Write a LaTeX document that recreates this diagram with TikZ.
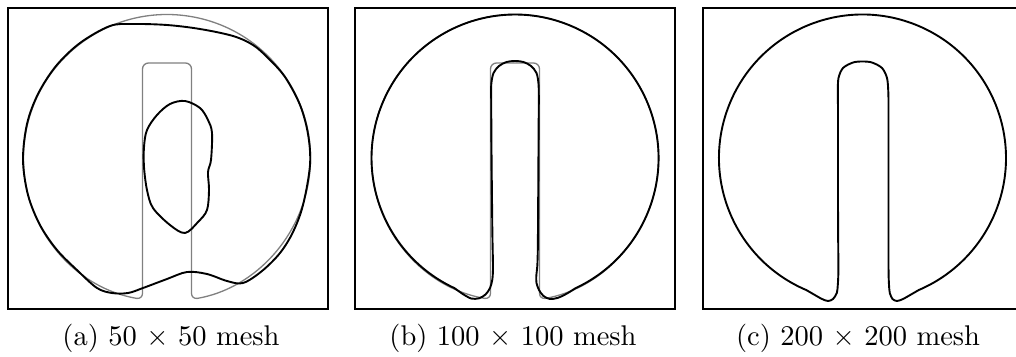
\documentclass[tikz,border=0pt]{standalone}
\usepackage{tikz}
\usepackage{fontspec}
\usepackage{xcolor}
\newfontfamily\capfont{lmroman10-regular.otf}
\definecolor{exactline}{RGB}{128,128,128}

\tikzset{
  panelbox/.style={line width=2.4pt},
  exactset/.style={exactline, line width=1.3pt, rounded corners=6pt},
  lsline/.style={black, line width=1.9pt, line join=round},
  caption/.style={font=\capfont\fontsize{28.5}{34}\selectfont, anchor=base}
}
% exact slotted disk, #1 = centre x
\newcommand{\slotdisk}[1]{%
  \draw[exactset] (#1-24.5,299.4) arc[start angle=99.83, end angle=440.17, radius=143.5]
    -- (#1+24.5,63) -- (#1-24.5,63) -- cycle;}

\begin{document}
\begin{tikzpicture}[x=1pt, y=-1pt]
  \path[use as bounding box] (0,0) rectangle (1016,356);
  \begin{scope}
    \clip (0,0) rectangle (1016,356);
    \foreach \x in {8,355,703}
      \draw[panelbox] (\x,8) rectangle ++(320,301);
  \end{scope}

  % exact solution
  \foreach \cx in {167,515} {\slotdisk{\cx}}

  % (a) coarse mesh
  \draw[lsline] plot[smooth cycle, tension=0.55] coordinates {
    (23,160) (27,124) (38,94) (56,66) (80,43) (110,26) (133,24) (167,25)
    (200,29) (233,36) (253,45) (268,58) (285,77) (300,105) (308,134)
    (310,165) (303,205) (293,232) (280,253) (262,271) (243,283) (227,281)
    (207,274) (187,272) (167,279) (143,288) (128,293) (112,293) (97,288)
    (78,271) (57,250) (40,225) (28,195)};
  \draw[lsline] plot[smooth cycle, tension=0.55] coordinates {
    (185,101) (170,104) (157,115) (147,130) (144,147) (144,167) (147,190)
    (153,208) (170,225) (185,233) (198,222) (207,210) (209,190) (208,172)
    (211,160) (212,133) (208,120) (200,108)};

  % (b) medium mesh
  \draw[lsline] (454.4,288.1) arc[start angle=115, end angle=425, radius=143.5]
    -- plot[smooth, tension=0.5] coordinates {
    (575.6,288.1) (567,293.5) (558,297.8) (550,299) (543.5,296) (539,290)
    (536.5,283) (536.3,276) (537.3,266) (537.8,250) (538,225) (538.3,180)
    (538.6,130) (538.8,100) (538.5,84) (536.5,73) (531,66) (523.5,62)
    (515,61) (506.5,62) (499,66) (493.5,73) (491.3,84) (491.2,100)
    (491.5,150) (492,200) (492.4,235) (492.8,255) (493,268) (492.4,279)
    (490,288) (485.5,294.5) (479,298.3) (471,298.5) (462,293.5)} -- cycle;

  % (c) fine mesh
  \draw[lsline] (806.4,290.1) arc[start angle=113, end angle=427, radius=143.5]
    -- plot[smooth, tension=0.5] coordinates {
    (918.6,290.1) (911,294.5) (903,299) (897,301) (892.5,299) (889.8,293)
    (889,285) (888.6,275) (888.5,262) (888.5,245) (888.5,200) (888.5,150)
    (888.5,110) (888.3,92) (887,78) (882,68) (872,62.5) (862.5,61.5)
    (853,62.5) (843,68) (838.5,78) (837.8,92) (838,110) (838,150) (838,200)
    (838.2,245) (838.4,262) (838.3,275) (837.8,285) (836.8,293) (833,299)
    (828,301) (822,299) (814,294.5)} -- cycle;

  % captions
  \node[caption] (capa) at (171,345) {(a) 50 × 50 mesh};
  \node[caption] (capb) at (513,345) {(b) 100 × 100 mesh};
  \node[caption] (capc) at (858,345) {(c) 200 × 200 mesh};
\end{tikzpicture}
\end{document}
